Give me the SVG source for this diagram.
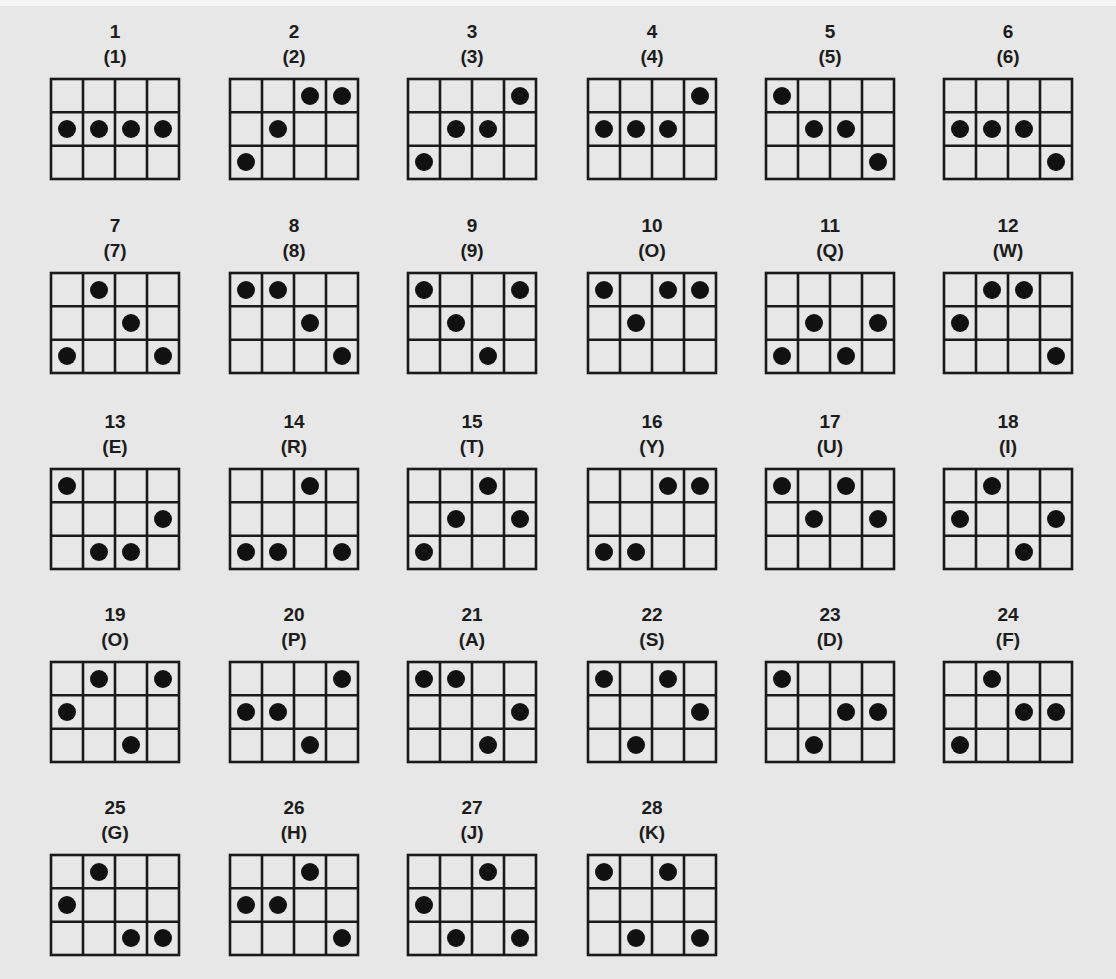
<svg xmlns="http://www.w3.org/2000/svg" xmlns:xlink="http://www.w3.org/1999/xlink" width="1116" height="979" viewBox="0 0 1116 979">
<style>
.num{font-family:"Liberation Sans",Arial,sans-serif;font-size:19px;font-weight:bold;fill:#1c1c1c;text-anchor:middle}
.gl{fill:none;stroke:#1a1a1a;stroke-width:2.6}
.dot{fill:#111}
</style>
<defs>
<g id="grid">
<rect class="gl" x="0" y="0" width="128" height="100"/>
<path class="gl" d="M32 0V100M64 0V100M96 0V100M0 33.3H128M0 66.7H128"/>
</g>
<circle id="d" class="dot" r="9"/>
</defs>
<rect width="1116" height="979" fill="#e7e7e7"/>
<rect width="1116" height="6" fill="#f6f6f6"/>
<g id="g1" transform="translate(51,79)"><text class="num" x="64" y="-41">1</text><text class="num" x="64" y="-16">(1)</text><use xlink:href="#grid"/><use xlink:href="#d" x="16" y="50"/><use xlink:href="#d" x="48" y="50"/><use xlink:href="#d" x="80" y="50"/><use xlink:href="#d" x="112" y="50"/></g>
<g id="g2" transform="translate(230,79)"><text class="num" x="64" y="-41">2</text><text class="num" x="64" y="-16">(2)</text><use xlink:href="#grid"/><use xlink:href="#d" x="80" y="17"/><use xlink:href="#d" x="112" y="17"/><use xlink:href="#d" x="48" y="50"/><use xlink:href="#d" x="16" y="83"/></g>
<g id="g3" transform="translate(408,79)"><text class="num" x="64" y="-41">3</text><text class="num" x="64" y="-16">(3)</text><use xlink:href="#grid"/><use xlink:href="#d" x="112" y="17"/><use xlink:href="#d" x="48" y="50"/><use xlink:href="#d" x="80" y="50"/><use xlink:href="#d" x="16" y="83"/></g>
<g id="g4" transform="translate(588,79)"><text class="num" x="64" y="-41">4</text><text class="num" x="64" y="-16">(4)</text><use xlink:href="#grid"/><use xlink:href="#d" x="112" y="17"/><use xlink:href="#d" x="16" y="50"/><use xlink:href="#d" x="48" y="50"/><use xlink:href="#d" x="80" y="50"/></g>
<g id="g5" transform="translate(766,79)"><text class="num" x="64" y="-41">5</text><text class="num" x="64" y="-16">(5)</text><use xlink:href="#grid"/><use xlink:href="#d" x="16" y="17"/><use xlink:href="#d" x="48" y="50"/><use xlink:href="#d" x="80" y="50"/><use xlink:href="#d" x="112" y="83"/></g>
<g id="g6" transform="translate(944,79)"><text class="num" x="64" y="-41">6</text><text class="num" x="64" y="-16">(6)</text><use xlink:href="#grid"/><use xlink:href="#d" x="16" y="50"/><use xlink:href="#d" x="48" y="50"/><use xlink:href="#d" x="80" y="50"/><use xlink:href="#d" x="112" y="83"/></g>
<g id="g7" transform="translate(51,273)"><text class="num" x="64" y="-41">7</text><text class="num" x="64" y="-16">(7)</text><use xlink:href="#grid"/><use xlink:href="#d" x="48" y="17"/><use xlink:href="#d" x="80" y="50"/><use xlink:href="#d" x="16" y="83"/><use xlink:href="#d" x="112" y="83"/></g>
<g id="g8" transform="translate(230,273)"><text class="num" x="64" y="-41">8</text><text class="num" x="64" y="-16">(8)</text><use xlink:href="#grid"/><use xlink:href="#d" x="16" y="17"/><use xlink:href="#d" x="48" y="17"/><use xlink:href="#d" x="80" y="50"/><use xlink:href="#d" x="112" y="83"/></g>
<g id="g9" transform="translate(408,273)"><text class="num" x="64" y="-41">9</text><text class="num" x="64" y="-16">(9)</text><use xlink:href="#grid"/><use xlink:href="#d" x="16" y="17"/><use xlink:href="#d" x="112" y="17"/><use xlink:href="#d" x="48" y="50"/><use xlink:href="#d" x="80" y="83"/></g>
<g id="g10" transform="translate(588,273)"><text class="num" x="64" y="-41">10</text><text class="num" x="64" y="-16">(O)</text><use xlink:href="#grid"/><use xlink:href="#d" x="16" y="17"/><use xlink:href="#d" x="80" y="17"/><use xlink:href="#d" x="112" y="17"/><use xlink:href="#d" x="48" y="50"/></g>
<g id="g11" transform="translate(766,273)"><text class="num" x="64" y="-41">11</text><text class="num" x="64" y="-16">(Q)</text><use xlink:href="#grid"/><use xlink:href="#d" x="48" y="50"/><use xlink:href="#d" x="112" y="50"/><use xlink:href="#d" x="16" y="83"/><use xlink:href="#d" x="80" y="83"/></g>
<g id="g12" transform="translate(944,273)"><text class="num" x="64" y="-41">12</text><text class="num" x="64" y="-16">(W)</text><use xlink:href="#grid"/><use xlink:href="#d" x="48" y="17"/><use xlink:href="#d" x="80" y="17"/><use xlink:href="#d" x="16" y="50"/><use xlink:href="#d" x="112" y="83"/></g>
<g id="g13" transform="translate(51,469)"><text class="num" x="64" y="-41">13</text><text class="num" x="64" y="-16">(E)</text><use xlink:href="#grid"/><use xlink:href="#d" x="16" y="17"/><use xlink:href="#d" x="112" y="50"/><use xlink:href="#d" x="48" y="83"/><use xlink:href="#d" x="80" y="83"/></g>
<g id="g14" transform="translate(230,469)"><text class="num" x="64" y="-41">14</text><text class="num" x="64" y="-16">(R)</text><use xlink:href="#grid"/><use xlink:href="#d" x="80" y="17"/><use xlink:href="#d" x="16" y="83"/><use xlink:href="#d" x="48" y="83"/><use xlink:href="#d" x="112" y="83"/></g>
<g id="g15" transform="translate(408,469)"><text class="num" x="64" y="-41">15</text><text class="num" x="64" y="-16">(T)</text><use xlink:href="#grid"/><use xlink:href="#d" x="80" y="17"/><use xlink:href="#d" x="48" y="50"/><use xlink:href="#d" x="112" y="50"/><use xlink:href="#d" x="16" y="83"/></g>
<g id="g16" transform="translate(588,469)"><text class="num" x="64" y="-41">16</text><text class="num" x="64" y="-16">(Y)</text><use xlink:href="#grid"/><use xlink:href="#d" x="80" y="17"/><use xlink:href="#d" x="112" y="17"/><use xlink:href="#d" x="16" y="83"/><use xlink:href="#d" x="48" y="83"/></g>
<g id="g17" transform="translate(766,469)"><text class="num" x="64" y="-41">17</text><text class="num" x="64" y="-16">(U)</text><use xlink:href="#grid"/><use xlink:href="#d" x="16" y="17"/><use xlink:href="#d" x="80" y="17"/><use xlink:href="#d" x="48" y="50"/><use xlink:href="#d" x="112" y="50"/></g>
<g id="g18" transform="translate(944,469)"><text class="num" x="64" y="-41">18</text><text class="num" x="64" y="-16">(I)</text><use xlink:href="#grid"/><use xlink:href="#d" x="48" y="17"/><use xlink:href="#d" x="16" y="50"/><use xlink:href="#d" x="112" y="50"/><use xlink:href="#d" x="80" y="83"/></g>
<g id="g19" transform="translate(51,662)"><text class="num" x="64" y="-41">19</text><text class="num" x="64" y="-16">(O)</text><use xlink:href="#grid"/><use xlink:href="#d" x="48" y="17"/><use xlink:href="#d" x="112" y="17"/><use xlink:href="#d" x="16" y="50"/><use xlink:href="#d" x="80" y="83"/></g>
<g id="g20" transform="translate(230,662)"><text class="num" x="64" y="-41">20</text><text class="num" x="64" y="-16">(P)</text><use xlink:href="#grid"/><use xlink:href="#d" x="112" y="17"/><use xlink:href="#d" x="16" y="50"/><use xlink:href="#d" x="48" y="50"/><use xlink:href="#d" x="80" y="83"/></g>
<g id="g21" transform="translate(408,662)"><text class="num" x="64" y="-41">21</text><text class="num" x="64" y="-16">(A)</text><use xlink:href="#grid"/><use xlink:href="#d" x="16" y="17"/><use xlink:href="#d" x="48" y="17"/><use xlink:href="#d" x="112" y="50"/><use xlink:href="#d" x="80" y="83"/></g>
<g id="g22" transform="translate(588,662)"><text class="num" x="64" y="-41">22</text><text class="num" x="64" y="-16">(S)</text><use xlink:href="#grid"/><use xlink:href="#d" x="16" y="17"/><use xlink:href="#d" x="80" y="17"/><use xlink:href="#d" x="112" y="50"/><use xlink:href="#d" x="48" y="83"/></g>
<g id="g23" transform="translate(766,662)"><text class="num" x="64" y="-41">23</text><text class="num" x="64" y="-16">(D)</text><use xlink:href="#grid"/><use xlink:href="#d" x="16" y="17"/><use xlink:href="#d" x="80" y="50"/><use xlink:href="#d" x="112" y="50"/><use xlink:href="#d" x="48" y="83"/></g>
<g id="g24" transform="translate(944,662)"><text class="num" x="64" y="-41">24</text><text class="num" x="64" y="-16">(F)</text><use xlink:href="#grid"/><use xlink:href="#d" x="48" y="17"/><use xlink:href="#d" x="80" y="50"/><use xlink:href="#d" x="112" y="50"/><use xlink:href="#d" x="16" y="83"/></g>
<g id="g25" transform="translate(51,855)"><text class="num" x="64" y="-41">25</text><text class="num" x="64" y="-16">(G)</text><use xlink:href="#grid"/><use xlink:href="#d" x="48" y="17"/><use xlink:href="#d" x="16" y="50"/><use xlink:href="#d" x="80" y="83"/><use xlink:href="#d" x="112" y="83"/></g>
<g id="g26" transform="translate(230,855)"><text class="num" x="64" y="-41">26</text><text class="num" x="64" y="-16">(H)</text><use xlink:href="#grid"/><use xlink:href="#d" x="80" y="17"/><use xlink:href="#d" x="16" y="50"/><use xlink:href="#d" x="48" y="50"/><use xlink:href="#d" x="112" y="83"/></g>
<g id="g27" transform="translate(408,855)"><text class="num" x="64" y="-41">27</text><text class="num" x="64" y="-16">(J)</text><use xlink:href="#grid"/><use xlink:href="#d" x="80" y="17"/><use xlink:href="#d" x="16" y="50"/><use xlink:href="#d" x="48" y="83"/><use xlink:href="#d" x="112" y="83"/></g>
<g id="g28" transform="translate(588,855)"><text class="num" x="64" y="-41">28</text><text class="num" x="64" y="-16">(K)</text><use xlink:href="#grid"/><use xlink:href="#d" x="16" y="17"/><use xlink:href="#d" x="80" y="17"/><use xlink:href="#d" x="48" y="83"/><use xlink:href="#d" x="112" y="83"/></g>
<g id="connectors"/>
</svg>
